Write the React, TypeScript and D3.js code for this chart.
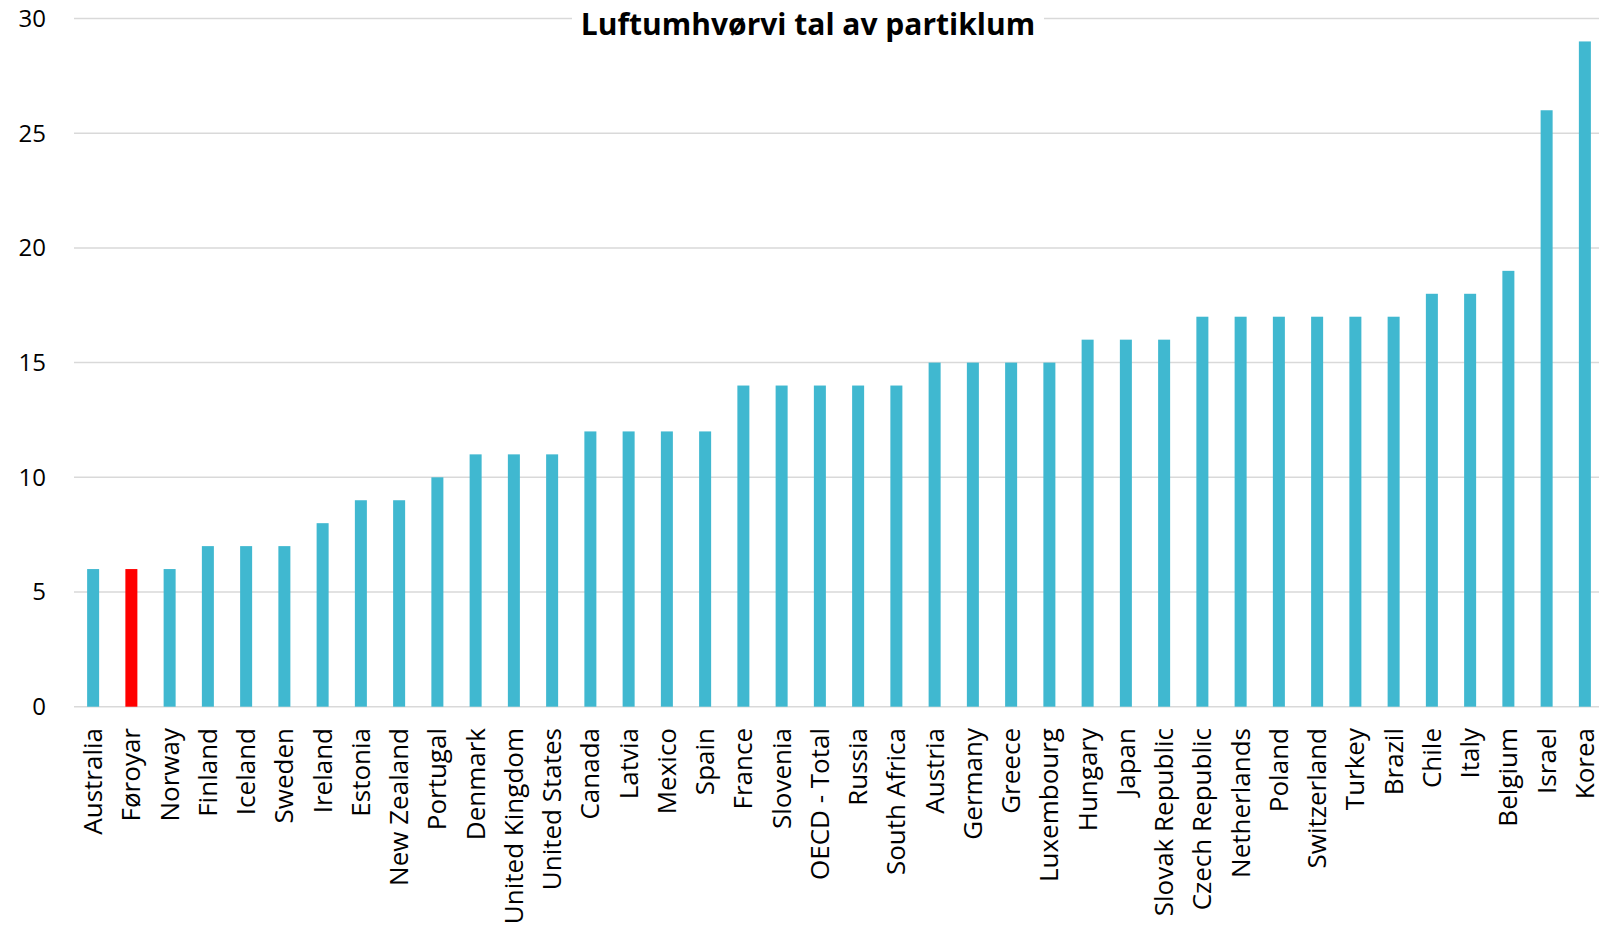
import React from "react";
import * as d3 from "d3";

const categories = [
  "Australia", "Føroyar", "Norway", "Finland", "Iceland", "Sweden", "Ireland", "Estonia",
  "New Zealand", "Portugal", "Denmark", "United Kingdom", "United States", "Canada", "Latvia",
  "Mexico", "Spain", "France", "Slovenia", "OECD - Total", "Russia", "South Africa", "Austria",
  "Germany", "Greece", "Luxembourg", "Hungary", "Japan", "Slovak Republic", "Czech Republic",
  "Netherlands", "Poland", "Switzerland", "Turkey", "Brazil", "Chile", "Italy", "Belgium",
  "Israel", "Korea",
];
const values = [
  6, 6, 6, 7, 7, 7, 8, 9, 9, 10, 11, 11, 11, 12, 12, 12, 12, 14, 14, 14, 14, 14, 15, 15, 15, 15,
  16, 16, 16, 17, 17, 17, 17, 17, 17, 18, 18, 19, 26, 29,
];
const yTicks = [0, 5, 10, 15, 20, 25, 30];
const highlight = "Føroyar";
const title = "Luftumhvørvi tal av partiklum";

const W = 1599;
const H = 926;

export default function App() {
  const x = d3
    .scaleBand<string>()
    .domain(categories)
    .range([74, 1604])
    .paddingInner(0.686)
    .paddingOuter(0.343);
  const y = d3.scaleLinear().domain([0, 30]).range([706.7, 18.5]);
  const font = "'Open Sans', 'Noto Sans', sans-serif";

  return (
    <svg
      width={W}
      height={H}
      style={{ position: "absolute", left: 0, top: 0, background: "#fff" }}
    >
      <rect x={0} y={0} width={W} height={H} fill="#fff" />
      <g>
        {yTicks.map((t) => (
          <g key={t}>
            <line x1={74} x2={W} y1={y(t)} y2={y(t)} stroke="#d9d9d9" strokeWidth={1.5} />
            <text
              x={46}
              y={y(t)}
              dy="0.35em"
              textAnchor="end"
              fontFamily={font}
              fontSize={24}
              fill="#000"
            >
              {t}
            </text>
          </g>
        ))}
      </g>
      <g>
        {categories.map((c, i) => (
          <rect
            key={c}
            x={x(c)}
            y={y(values[i])}
            width={x.bandwidth()}
            height={y(0) - y(values[i])}
            fill={c === highlight ? "#ff0000" : "#40b8d0"}
          />
        ))}
      </g>
      <g>
        {categories.map((c) => {
          const cx = (x(c) as number) + x.bandwidth() / 2;
          return (
            <text
              key={c}
              transform={`translate(${cx},728) rotate(-90)`}
              dy="0.35em"
              textAnchor="end"
              fontFamily={font}
              fontSize={26}
              fill="#000"
            >
              {c}
            </text>
          );
        })}
      </g>
      <rect x={572} y={8} width={472} height={32} fill="#fff" />
      <text
        x={808}
        y={35}
        textAnchor="middle"
        fontFamily={font}
        fontWeight="bold"
        fontSize={30}
        fill="#000"
      >
        {title}
      </text>
    </svg>
  );
}
